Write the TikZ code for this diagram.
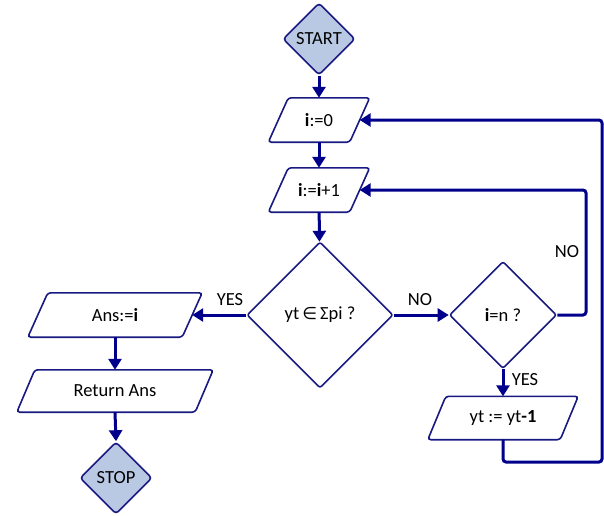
\documentclass[tikz,border=0pt]{standalone}
\usepackage{fontspec}
\setmainfont{Carlito}
\newfontfamily\symfont{DejaVu Sans}
\usetikzlibrary{shapes.geometric,arrows.meta}
\definecolor{edgeblue}{RGB}{25,25,130}
\definecolor{flowblue}{RGB}{0,0,140}
\definecolor{termfill}{RGB}{185,201,228}
% outline of a right-leaning parallelogram around a rectangular node;
% #1 = node name, #2 = half of the horizontal slant (pt)
\newcommand\ioshape[2]{%
  \draw[ioline] ([xshift=-#2pt]#1.south west) -- ([xshift=-#2pt]#1.south east)
    -- ([xshift=#2pt]#1.north east) -- ([xshift=#2pt]#1.north west) -- cycle;}
\begin{document}
\begin{tikzpicture}[x=1pt,y=-1pt,
  font=\fontsize{18.5}{22}\selectfont,
  term/.style={diamond, aspect=1, draw=edgeblue, line width=1.6pt, fill=termfill,
    minimum width=72pt, minimum height=72pt, inner sep=0pt, rounded corners=3pt},
  test/.style={diamond, aspect=1, draw=edgeblue, line width=1.6pt, fill=white,
    inner sep=0pt, rounded corners=2pt},
  io/.style={rectangle, minimum height=44pt, inner sep=0pt},
  ioline/.style={draw=edgeblue, line width=1.6pt, rounded corners=3pt},
  flow/.style={draw=flowblue, line width=3pt, rounded corners=3pt,
    -{Triangle[length=11pt,width=13pt]}},
  lbl/.style={inner sep=1pt}
]
\useasboundingbox (0,0) rectangle (604,515);

% terminals
\node[term] (start) at (319,39) {START};
\node[term] (stop) at (116,478) {STOP};

% assignments (text bodies, outlines drawn below)
\node[io, minimum width=81pt] (init) at (319,120) {\textbf{i}:=0};
\node[io, minimum width=81pt] (incr) at (319,190) {\textbf{i}:=\textbf{i}+1};
\node[io, minimum width=154pt] (ans) at (115,315) {Ans:=\textbf{i}};
\node[io, minimum width=178pt, minimum height=42pt] (ret) at (115,391) {Return Ans};
\node[io, minimum width=132pt, minimum height=43pt] (dec) at (503,418) {yt := yt\textbf{-1}};
\ioshape{init}{10}
\ioshape{incr}{10}
\ioshape{ans}{10}
\ioshape{ret}{9}
\ioshape{dec}{9}

% decisions
\node[test, minimum width=146pt, minimum height=146pt] (member) at (320,315)
  {yt\,{\symfont\fontsize{17}{20}\selectfont ∈}\,Σpi ?};
\node[test, minimum width=107pt, minimum height=107pt] (last) at (503,315) {\textbf{i}=n ?};

% loop-back corners
\coordinate (noR) at (586,315);
\coordinate (noT) at (586,190);
\coordinate (loopA) at (503,462);
\coordinate (loopB) at (602,462);
\coordinate (loopC) at (602,120);

% connectors
\draw[flow] (start) -- (init);
\draw[flow] (init) -- (incr);
\draw[flow] (incr) -- (member);
\draw[flow] (member.west) -- (ans.east);
\draw[flow] (member.east) -- (last.west);
\draw[flow] (last.east) -- (noR) -- (noT) -- (incr.east);
\draw[flow] (last.south) -- (dec.north);
\draw[flow] (dec.south) -- (loopA) -- (loopB) -- (loopC) -- (init.east);
\draw[flow] (ans.south) -- (ret.north);
\draw[flow] (ret.south) -- (stop.north);

% branch labels
\node[lbl] (yesL) at (230,300) {YES};
\node[lbl] (noM) at (420,300) {NO};
\node[lbl] (noR2) at (567,252) {NO};
\node[lbl] (yesB) at (525,380) {YES};
\end{tikzpicture}
\end{document}
